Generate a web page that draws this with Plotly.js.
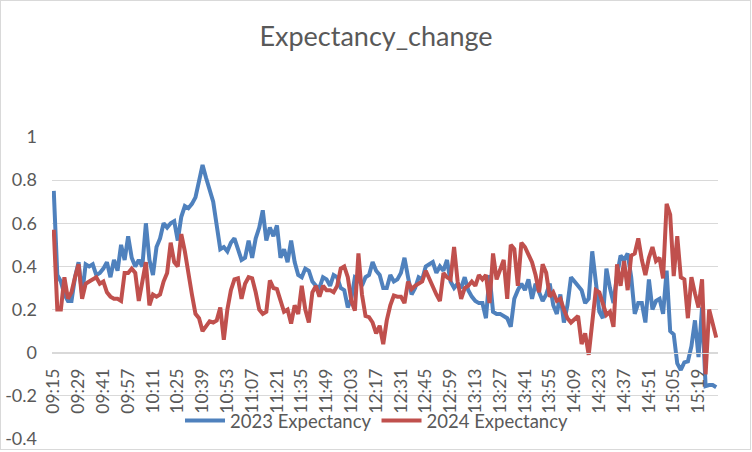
<!DOCTYPE html>
<html>
<head>
<meta charset="utf-8">
<script src="https://cdn.plot.ly/plotly-3.0.1.min.js"></script>
<style>
  html, body { margin: 0; padding: 0; background: #ffffff; }
  #wrap { position: relative; width: 752px; height: 452px; }
  #chart { width: 752px; height: 452px; }
  #frame { position: absolute; left: 0; top: 0; width: 749px; height: 448px;
           border: 1px solid #d9d9d9; pointer-events: none; }
</style>
</head>
<body>
<div id="wrap"><div id="chart"></div><div id="frame"></div></div>
<script>
const categories = [
"09:15","09:17","09:19","09:21","09:23","09:25","09:27",
"09:29","09:31","09:33","09:34","09:36","09:38","09:40",
"09:41","09:43","09:46","09:48","09:50","09:52","09:55",
"09:57","09:59","10:01","10:03","10:05","10:07","10:09",
"10:11","10:13","10:15","10:17","10:19","10:21","10:23",
"10:25","10:27","10:29","10:31","10:33","10:35","10:37",
"10:39","10:41","10:43","10:45","10:47","10:49","10:51",
"10:53","10:55","10:57","10:59","11:01","11:03","11:05",
"11:07","11:09","11:11","11:13","11:15","11:17","11:19",
"11:21","11:23","11:25","11:27","11:29","11:31","11:33",
"11:35","11:37","11:39","11:41","11:43","11:45","11:47",
"11:49","11:51","11:53","11:55","11:57","11:59","12:01",
"12:03","12:05","12:07","12:09","12:11","12:13","12:15",
"12:17","12:19","12:21","12:23","12:25","12:27","12:29",
"12:31","12:33","12:35","12:37","12:39","12:41","12:43",
"12:45","12:47","12:49","12:51","12:53","12:55","12:57",
"12:59","13:01","13:03","13:05","13:07","13:09","13:11",
"13:13","13:15","13:17","13:19","13:21","13:23","13:25",
"13:27","13:29","13:31","13:33","13:35","13:37","13:39",
"13:41","13:43","13:45","13:47","13:49","13:51","13:53",
"13:55","13:57","13:59","14:01","14:03","14:05","14:07",
"14:09","14:11","14:13","14:15","14:17","14:19","14:21",
"14:23","14:25","14:27","14:29","14:31","14:33","14:35",
"14:37","14:39","14:41","14:43","14:45","14:47","14:49",
"14:51","14:53","14:55","14:57","14:59","15:01","15:03",
"15:05","15:07","15:09","15:11","15:13","15:15","15:17",
"15:19","15:21","15:23","15:25","15:27","15:29"
];

const tickLabels = ["09:15","09:29","09:41","09:57","10:11","10:25","10:39","10:53",
"11:07","11:21","11:35","11:49","12:03","12:17","12:31","12:45","12:59","13:13",
"13:27","13:41","13:55","14:09","14:23","14:37","14:51","15:05","15:19"];

const yTickVals = [-0.4, -0.2, 0, 0.2, 0.4, 0.6, 0.8, 1];
const yTickText = ["-0.4", "-0.2", "0", "0.2", "0.4", "0.6", "0.8", "1"];

const expectancy2023 = [
0.75,0.36,0.33,0.27,0.24,0.24,0.35,0.42,0.27,0.41,
0.40,0.41,0.36,0.37,0.39,0.42,0.35,0.43,0.38,0.50,
0.43,0.54,0.44,0.40,0.43,0.40,0.60,0.43,0.36,0.49,
0.53,0.60,0.58,0.60,0.61,0.52,0.63,0.68,0.67,0.69,
0.72,0.79,0.87,0.81,0.76,0.70,0.59,0.48,0.49,0.47,
0.51,0.53,0.48,0.43,0.44,0.52,0.44,0.53,0.58,0.66,
0.52,0.58,0.54,0.59,0.44,0.48,0.42,0.52,0.42,0.36,
0.35,0.39,0.38,0.33,0.31,0.30,0.35,0.34,0.31,0.36,
0.35,0.30,0.29,0.21,0.25,0.35,0.34,0.31,0.35,0.36,
0.42,0.38,0.36,0.30,0.30,0.36,0.33,0.34,0.37,0.44,
0.35,0.27,0.30,0.35,0.34,0.40,0.41,0.42,0.37,0.40,
0.38,0.43,0.33,0.30,0.32,0.30,0.35,0.29,0.26,0.24,
0.23,0.23,0.16,0.36,0.19,0.18,0.18,0.17,0.16,0.12,
0.25,0.29,0.32,0.29,0.34,0.25,0.32,0.28,0.24,0.27,
0.32,0.22,0.18,0.27,0.14,0.22,0.35,0.33,0.31,0.29,
0.23,0.25,0.47,0.32,0.19,0.16,0.39,0.30,0.23,0.36,
0.45,0.43,0.46,0.35,0.18,0.23,0.23,0.14,0.34,0.20,
0.24,0.25,0.18,0.38,0.10,0.085,-0.05,-0.08,-0.045,-0.04,
0.03,0.15,-0.02,0.21,-0.155,-0.15,-0.15,-0.16
];

const expectancy2024 = [
0.57,0.20,0.20,0.35,0.25,0.28,0.35,0.41,0.25,0.32,
0.33,0.34,0.35,0.32,0.33,0.28,0.26,0.25,0.25,0.24,
0.37,0.37,0.39,0.37,0.24,0.33,0.42,0.22,0.27,0.26,
0.27,0.33,0.37,0.51,0.42,0.40,0.55,0.47,0.36,0.27,
0.18,0.16,0.10,0.125,0.145,0.14,0.15,0.21,0.06,0.20,
0.29,0.34,0.345,0.25,0.32,0.35,0.345,0.28,0.20,0.18,
0.19,0.335,0.30,0.295,0.24,0.19,0.20,0.135,0.22,0.18,
0.31,0.20,0.14,0.28,0.31,0.26,0.31,0.29,0.29,0.28,
0.31,0.39,0.40,0.35,0.24,0.195,0.46,0.27,0.17,0.165,
0.14,0.09,0.125,0.04,0.15,0.22,0.265,0.26,0.26,0.23,
0.33,0.295,0.31,0.32,0.33,0.38,0.34,0.31,0.27,0.24,
0.37,0.35,0.34,0.49,0.33,0.25,0.30,0.31,0.33,0.31,
0.36,0.34,0.36,0.23,0.46,0.34,0.39,0.43,0.25,0.50,
0.48,0.31,0.51,0.49,0.455,0.42,0.36,0.28,0.41,0.37,
0.26,0.28,0.24,0.25,0.20,0.16,0.14,0.155,0.17,0.04,
0.09,-0.01,0.13,0.29,0.28,0.23,0.175,0.19,0.12,0.41,
0.31,0.425,0.29,0.45,0.46,0.53,0.43,0.36,0.44,0.49,
0.425,0.44,0.345,0.69,0.64,0.355,0.54,0.35,0.34,0.16,
0.35,0.275,0.21,0.34,-0.10,0.20,0.13,0.07
];

const seriesNames = ["2023 Expectancy", "2024 Expectancy"];
const FONT = "Lato, 'Liberation Sans', sans-serif";
const TXT = "#595959";

const traces = [
  { type: "scatter", mode: "lines", name: seriesNames[0], x: categories, y: expectancy2023,
    line: { color: "#4F81BD", width: 4 } },
  { type: "scatter", mode: "lines", name: seriesNames[1], x: categories, y: expectancy2024,
    line: { color: "#C0504D", width: 4 } }
];

const layout = {
  width: 752, height: 452,
  paper_bgcolor: "#ffffff", plot_bgcolor: "#ffffff",
  margin: { l: 52, r: 34, t: 137, b: 13, pad: 0 },
  font: { family: FONT, color: TXT, size: 17 },
  title: { text: "Expectancy_change", x: 0.5, xref: "container", xanchor: "center",
           y: 1 - 37/452, yref: "container", yanchor: "middle",
           font: { family: FONT, size: 27, color: TXT } },
  showlegend: true,
  legend: { orientation: "h", x: 0.488, xanchor: "center", y: (439-421)/302, yanchor: "middle",
            bgcolor: "rgba(0,0,0,0)", font: { family: FONT, size: 18.5, color: TXT },
            itemwidth: 40, tracegroupgap: 0 },
  xaxis: {
    type: "category", anchor: "free", position: 0.4/1.4,
    categoryorder: "array", categoryarray: categories,
    range: [-0.5, categories.length - 0.5],
    tickmode: "array", tickvals: tickLabels, ticktext: tickLabels,
    tickangle: -90, ticks: "", showgrid: false, showline: true, linecolor: "#d9d9d9", linewidth: 1,
    ticklabelstandoff: 8,
    tickfont: { family: FONT, size: 17.5, color: TXT }, zeroline: false, fixedrange: true
  },
  yaxis: {
    range: [-0.4, 1], tickmode: "array", tickvals: yTickVals, ticktext: yTickText,
    showgrid: true, gridcolor: "#d9d9d9", gridwidth: 1, zeroline: false, showline: false,
    ticks: "", ticklabelstandoff: 14,
    tickfont: { family: FONT, size: 18, color: TXT }, fixedrange: true
  }
};

Plotly.newPlot("chart", traces, layout, { displayModeBar: false, staticPlot: true });
</script>
</body>
</html>
